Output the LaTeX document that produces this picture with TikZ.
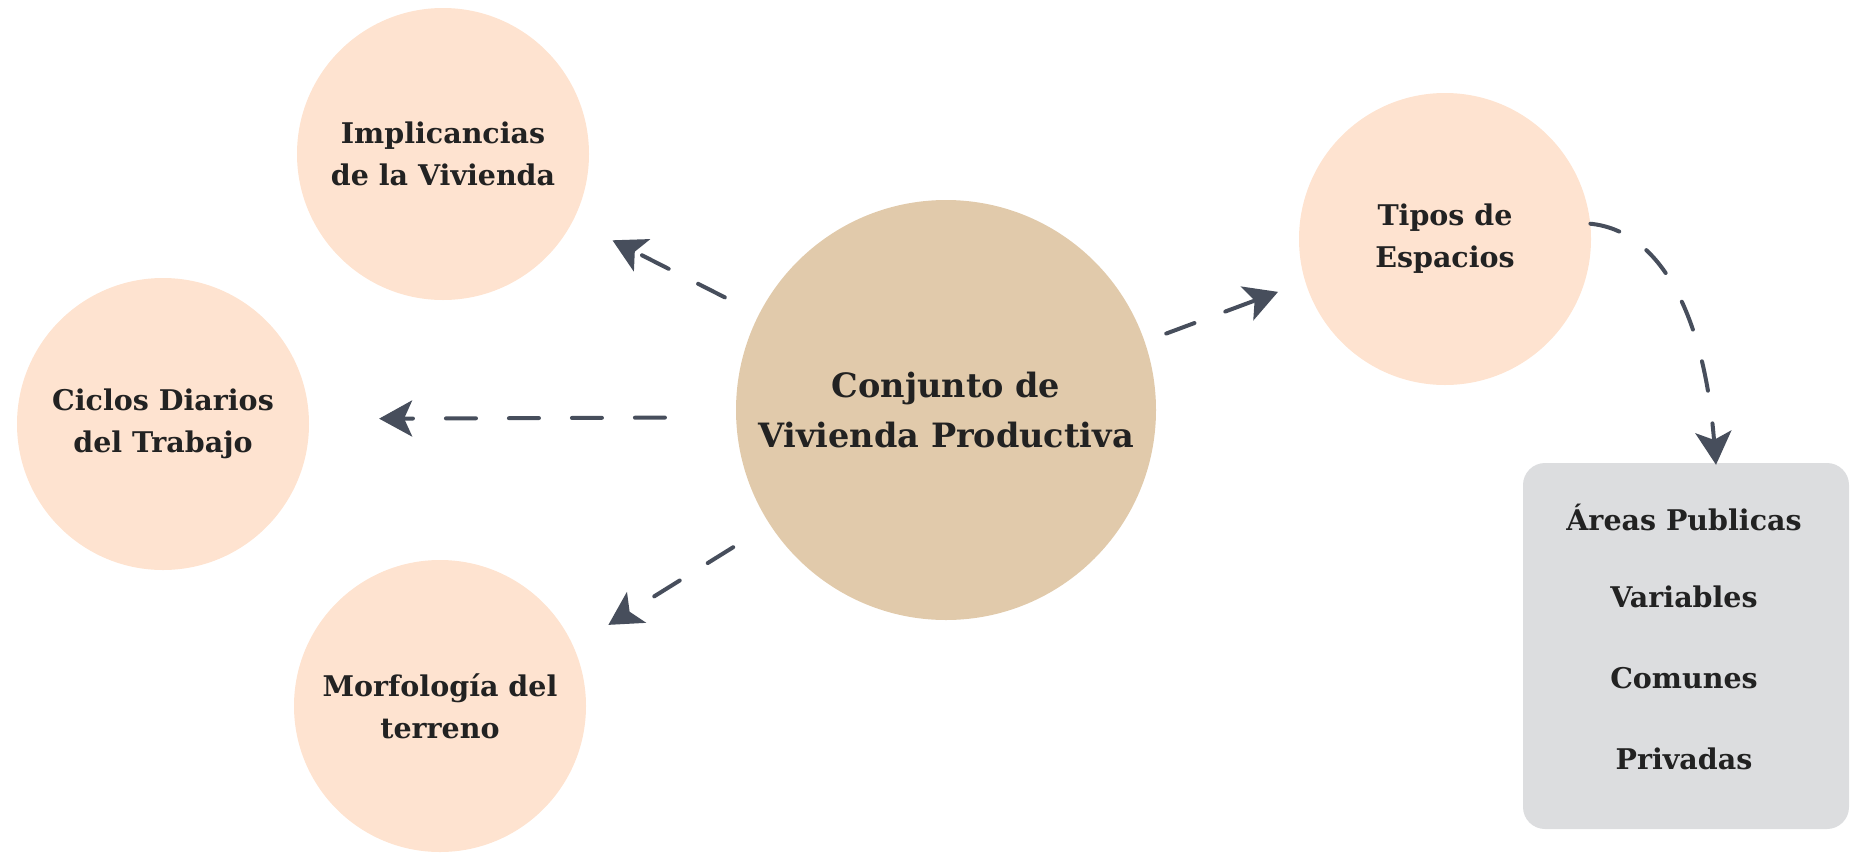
\documentclass[tikz,border=0pt]{standalone}
\usepackage{fontspec}
\setmainfont{DejaVu Serif}
\usetikzlibrary{arrows.meta}
\definecolor{peach}{HTML}{FEE3D0}
\definecolor{sand}{HTML}{E1CAAB}
\definecolor{boxgray}{HTML}{DCDDDF}
\definecolor{linkgray}{HTML}{474E5C}
\definecolor{ink}{HTML}{222222}
\tikzset{
  topic/.style={circle, fill=peach, draw=none, inner sep=0pt, minimum size=292pt,
    align=center, text=ink, font=\bfseries\fontsize{28.5}{42}\selectfont},
  hub/.style={circle, fill=sand, draw=none, inner sep=0pt, minimum size=420pt,
    align=center, text=ink, font=\bfseries\fontsize{33.5}{50}\selectfont},
  item/.style={text=ink, font=\bfseries\fontsize{28.5}{42}\selectfont},
  link/.style={draw=linkgray, line width=4pt, line cap=round,
    dash pattern=on 30pt off 33pt,
    -{Stealth[length=33pt, width=36pt, inset=8pt]}},
}
\begin{document}
\begin{tikzpicture}[x=1pt, y=-1pt]
\useasboundingbox (0,0) rectangle (1871,852);

% hub and surrounding topics
\node[hub]   (hub)   at (946,410)  {Conjunto de\\Vivienda Productiva};
\node[topic] (impl)  at (443,154)  {Implicancias\\de la Vivienda};
\node[topic] (ciclo) at (163,424)  {Ciclos Diarios\\del Trabajo};
\node[topic] (morf)  at (440,706)  {Morfología del\\terreno};
\node[topic] (tipos) at (1445,239) {Tipos de\\Espacios};

% list of space types
\node[fill=boxgray, rounded corners=22pt, minimum width=326pt, minimum height=366pt,
      inner sep=0pt] (box) at (1686,646) {};
\node[item] (a1) at (1684,517) {Áreas Publicas};
\node[item] (a2) at (1684,597) {Variables};
\node[item] (a3) at (1684,678) {Comunes};
\node[item] (a4) at (1684,759) {Privadas};

% connectors (anchors are angles on the circle borders)
\draw[link, shorten <=38pt, shorten >=44pt] (hub.153.1) -- (impl.-27.6);
\draw[link, shorten <=71pt, shorten >=70pt] (hub.182.2) -- (ciclo.2.4);
\draw[link, shorten <=43pt, shorten >=41pt] (hub.213.9) -- (morf.24.2);
\draw[link, shorten <=23pt, shorten >=29pt] (hub.19.3) -- (tipos.197.6);
\coordinate (boxin) at ([xshift=30pt, yshift=-2pt]box.north);
\draw[link] (tipos.6) .. controls +(70,7) and +(-12,-150) .. (boxin);
\end{tikzpicture}
\end{document}
